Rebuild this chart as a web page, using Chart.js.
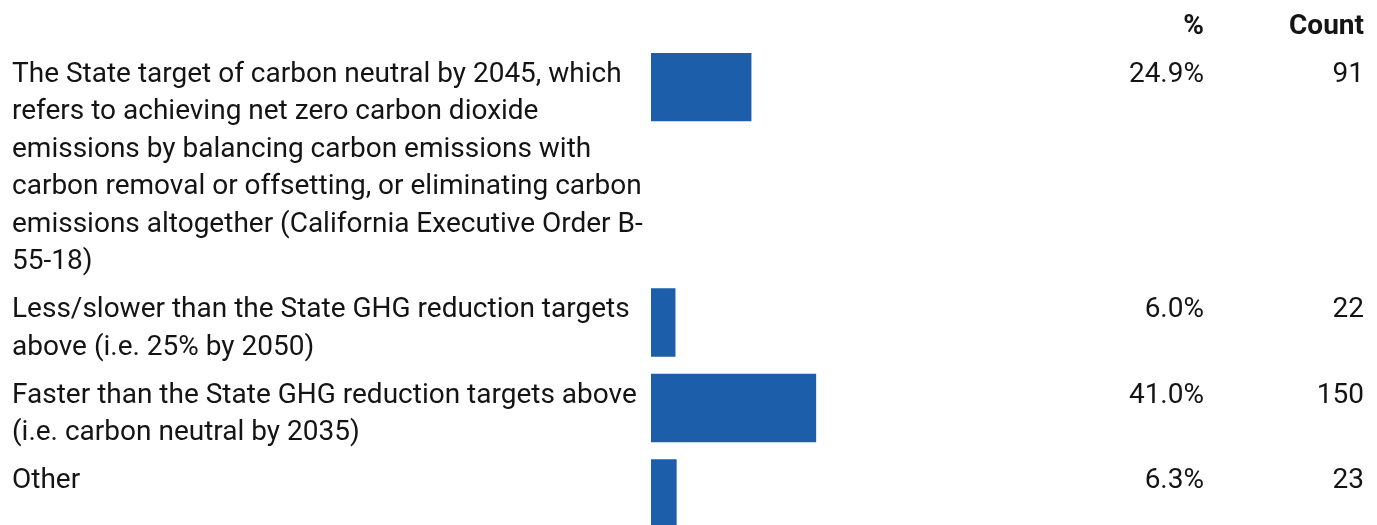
<!DOCTYPE html>
<html>
<head>
<meta charset="utf-8">
<script src="https://cdn.jsdelivr.net/npm/chart.js@4"></script>
<style>
  html, body { margin: 0; padding: 0; background: #fff; overflow: hidden; }
  #wrap { width: 1377px; height: 560px; }
</style>
</head>
<body>
<div id="wrap"><canvas id="ghgChart"></canvas></div>
<script>
// === Data ===
const categories = [
  ["The State target of carbon neutral by 2045, which",
   "refers to achieving net zero carbon dioxide",
   "emissions by balancing carbon emissions with",
   "carbon removal or offsetting, or eliminating carbon",
   "emissions altogether (California Executive Order B-",
   "55-18)"],
  ["Less/slower than the State GHG reduction targets",
   "above (i.e. 25% by 2050)"],
  ["Faster than the State GHG reduction targets above",
   "(i.e. carbon neutral by 2035)"],
  ["Other"]
];
const percentValues = [24.9, 6.0, 41.0, 6.3];
const countValues = [91, 22, 150, 23];
const columnHeaders = ["%", "Count"];

// === Layout (y axis measured in text lines) ===
const LINE_PX = 37.5;
const ROW_GAP = 0.28;           // space between rows, in lines
const TEXT_NUDGE = 3 / LINE_PX; // text sits a bit lower than the line middle
const BAR_PX = 68;
const MIN_ROW_LINES = 2;
const FONT = "Roboto";
const TEXT_COLOR = "#141414";
const BAR_COLOR = "#1d5eab";

const rowTops = [];
let acc = 0;
categories.forEach(lines => {
  rowTops.push(acc);
  acc += Math.max(lines.length, MIN_ROW_LINES) + ROW_GAP;
});
const barCenters = rowTops.map(t => t + (BAR_PX / 2) / LINE_PX);
const labelCenters = rowTops.map((t, i) => t + categories[i].length / 2 + TEXT_NUDGE);
const firstLineCenters = rowTops.map(t => t + 0.5 + TEXT_NUDGE);

const PAD_TOP = 53;
const wrapHeight = 560;
const yMax = (wrapHeight - PAD_TOP) / LINE_PX;

const tickFont = { family: FONT, size: 28, lineHeight: LINE_PX + "px" };

function sideAxis(width, centers, labels, position, weight) {
  return {
    type: "linear",
    position: position,
    weight: weight,
    reverse: true,
    offset: false,
    min: 0,
    max: yMax,
    grid: { display: false },
    border: { display: false },
    afterBuildTicks: axis => { axis.ticks = centers.map(v => ({ value: v })); },
    afterFit: axis => {
      axis.width = width;
      axis.paddingTop = 0;
      axis.paddingBottom = 0;
    },
    ticks: {
      autoSkip: false,
      padding: 0,
      crossAlign: "far",
      color: TEXT_COLOR,
      font: tickFont,
      callback: (v, i) => labels[i]
    }
  };
}

// headers above the two value columns
const headerPlugin = {
  id: "columnHeaders",
  afterDraw(chart) {
    const ctx = chart.ctx;
    ctx.save();
    ctx.font = `bold 28px ${FONT}`;
    ctx.fillStyle = TEXT_COLOR;
    ctx.textAlign = "right";
    ctx.textBaseline = "middle";
    ctx.fillText(columnHeaders[0], chart.scales.pct.right, 27);
    ctx.fillText(columnHeaders[1], chart.scales.count.right, 27);
    ctx.restore();
  }
};

new Chart(document.getElementById("ghgChart"), {
  type: "bar",
  data: {
    datasets: [{
      data: percentValues.map((v, i) => ({ x: v, y: barCenters[i] })),
      backgroundColor: BAR_COLOR,
      borderWidth: 0,
      barThickness: BAR_PX
    }]
  },
  options: {
    indexAxis: "y",
    responsive: true,
    maintainAspectRatio: false,
    animation: false,
    layout: { padding: { top: PAD_TOP, left: 12, right: 13, bottom: 0 } },
    scales: {
      x: { type: "linear", min: 0, max: 100, display: false },
      y: sideAxis(639, labelCenters, categories, "left", 0),
      pct: sideAxis(151, firstLineCenters, percentValues.map(v => v.toFixed(1) + "%"), "right", 0),
      count: sideAxis(160, firstLineCenters, countValues.map(String), "right", 1)
    },
    plugins: {
      legend: { display: false },
      tooltip: { enabled: false }
    }
  },
  plugins: [headerPlugin]
});
</script>
</body>
</html>
